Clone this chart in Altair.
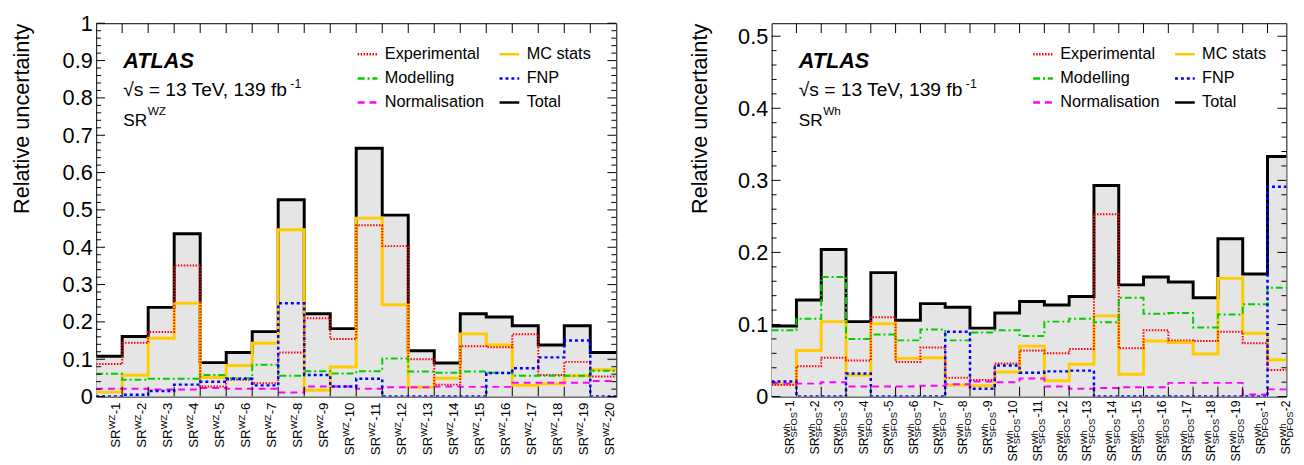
import altair as alt
import pandas as pd

FONT = "Liberation Sans"
H = 379
W_WZ = 528
W_WH = 522.5

# legend is filled column by column: first column = first three entries
SERIES = ["Experimental", "Modelling", "Normalisation", "MC stats", "FNP", "Total"]
COLORS = ["#ff0000", "#00cc00", "#ff00ff", "#ffcc00", "#0000ff", "#000000"]
DASHES = [[1.5, 1.5], [7, 3, 2, 3], [7, 5], [1, 0], [3, 3], [1, 0]]
WIDTHS = {"Experimental": 2, "MC stats": 3, "Modelling": 2, "FNP": 2.5,
          "Normalisation": 2, "Total": 3}
DRAW_ORDER = ["Total", "MC stats", "Experimental", "Modelling", "Normalisation", "FNP"]

# ---------------- SR^WZ (20 bins) ----------------
wz_numbers = list(range(1, 21))
wz_total = [0.108, 0.161, 0.239, 0.436, 0.091, 0.118, 0.174, 0.527, 0.222, 0.182,
            0.665, 0.486, 0.123, 0.090, 0.222, 0.213, 0.190, 0.138, 0.190, 0.118]
wz_exp = [0.087, 0.144, 0.173, 0.351, 0.027, 0.045, 0.036, 0.118, 0.210, 0.154,
          0.459, 0.403, 0.100, 0.032, 0.135, 0.132, 0.167, 0.058, 0.093, 0.054]
wz_mc = [0.012, 0.057, 0.156, 0.250, 0.051, 0.083, 0.143, 0.447, 0.017, 0.079,
         0.478, 0.246, 0.025, 0.049, 0.168, 0.138, 0.030, 0.034, 0.056, 0.072]
wz_mod = [0.061, 0.045, 0.048, 0.048, 0.058, 0.049, 0.085, 0.056, 0.068, 0.062,
          0.068, 0.102, 0.067, 0.064, 0.067, 0.064, 0.056, 0.056, 0.056, 0.069]
wz_fnp = [0.000, 0.005, 0.015, 0.032, 0.040, 0.048, 0.030, 0.250, 0.058, 0.027,
          0.048, 0.000, 0.000, 0.000, 0.000, 0.063, 0.076, 0.105, 0.150, 0.000]
wz_norm = [0.021, 0.021, 0.019, 0.019, 0.023, 0.021, 0.021, 0.011, 0.027, 0.027,
           0.021, 0.025, 0.025, 0.027, 0.026, 0.026, 0.037, 0.037, 0.037, 0.042]

# ---------------- SR^Wh (21 bins) ----------------
wh_numbers = list(range(1, 20)) + [1, 2]
wh_subs = ["SFOS"] * 19 + ["DFOS"] * 2
wh_total = [0.098, 0.134, 0.204, 0.104, 0.172, 0.106, 0.129, 0.124, 0.095, 0.116, 0.132,
            0.127, 0.139, 0.293, 0.155, 0.166, 0.159, 0.137, 0.219, 0.170, 0.333]
wh_exp = [0.016, 0.042, 0.054, 0.050, 0.110, 0.048, 0.068, 0.026, 0.023, 0.046, 0.064,
          0.060, 0.066, 0.253, 0.067, 0.092, 0.078, 0.077, 0.090, 0.074, 0.037]
wh_mc = [0.018, 0.064, 0.104, 0.030, 0.101, 0.053, 0.054, 0.016, 0.015, 0.034, 0.070,
         0.022, 0.045, 0.112, 0.031, 0.077, 0.075, 0.059, 0.164, 0.088, 0.051]
wh_mod = [0.092, 0.108, 0.166, 0.080, 0.086, 0.078, 0.093, 0.078, 0.089, 0.092, 0.084,
          0.104, 0.108, 0.103, 0.137, 0.115, 0.116, 0.096, 0.114, 0.128, 0.151]
wh_fnp = [0.021, 0.000, 0.000, 0.032, 0.000, 0.000, 0.000, 0.090, 0.011, 0.043, 0.033,
          0.035, 0.036, 0.000, 0.000, 0.000, 0.000, 0.000, 0.000, 0.000, 0.291]
wh_norm = [0.018, 0.018, 0.020, 0.014, 0.014, 0.014, 0.015, 0.017, 0.021, 0.020, 0.025,
           0.014, 0.011, 0.012, 0.013, 0.013, 0.019, 0.019, 0.019, 0.003, 0.010]

y_major_wz = [0, 0.1, 0.2, 0.3, 0.4, 0.5, 0.6, 0.7, 0.8, 0.9, 1.0]
y_major_wh = [0, 0.1, 0.2, 0.3, 0.4, 0.5]

# Arial / Liberation Sans advance widths (em)
CW = {"S": 0.667, "R": 0.722, "W": 0.944, "Z": 0.611, "h": 0.556, "F": 0.611,
      "O": 0.778, "D": 0.722, "-": 0.333, "T": 0.611, "e": 0.556, "V": 0.667,
      ",": 0.278, " ": 0.278, "f": 0.278, "b": 0.556, "s": 0.5, "=": 0.584,
      "\u221a": 0.549}


def tw(s, fs):
    return sum(CW.get(c, 0.556) for c in s) * fs


def txt(s, x, y, fs, align="left", **kw):
    return alt.Chart(pd.DataFrame({"t": [s]})).mark_text(
        align=align, baseline="alphabetic", font=FONT, fontSize=fs, color="black", **kw
    ).encode(x=alt.value(x), y=alt.value(y), text="t:N")


def panel(vals, numbers, subs, sup, W, xmax, ymax, ymajor, title_x):
    n = len(numbers)
    xs = alt.Scale(domain=[0, xmax], nice=False, zero=False)
    ys = alt.Scale(domain=[0, ymax], nice=False, zero=False)
    yaxis = alt.Axis(values=ymajor, format="~g", title="Relative uncertainty",
                     titleFont=FONT, titleFontSize=22, titleFontWeight="normal",
                     titleAngle=270, titleAlign="right", titleBaseline="alphabetic",
                     titleX=title_x, titleY=0, titleColor="black",
                     labelFont=FONT, labelFontSize=22, labelPadding=4, labelColor="black",
                     labelFlush=False, labelOverlap=False,
                     ticks=False, tickSize=0, domain=False, grid=False)
    X = alt.X("x:Q", scale=xs, axis=None)
    Y = alt.Y("v:Q", scale=ys, axis=yaxis)

    rows = []
    for s in SERIES:
        v = vals[s]
        for i in range(n + 1):
            rows.append({"series": s, "x": i, "v": v[min(i, n - 1)]})
    hist = pd.DataFrame(rows)

    leg = alt.Legend(title=None, orient="none", legendX=264, legendY=20, columns=2,
                     symbolType="stroke", symbolSize=400, symbolStrokeWidth=2.5,
                     labelFont=FONT, labelFontSize=16.5, labelColor="black",
                     labelOffset=6, columnPadding=10, rowPadding=4.5, padding=0)
    color = alt.Color("series:N", scale=alt.Scale(domain=SERIES, range=COLORS), legend=leg)
    dash = alt.StrokeDash("series:N", scale=alt.Scale(domain=SERIES, range=DASHES), legend=leg)

    layers = [alt.Chart(hist).transform_filter(alt.datum.series == "Total")
              .mark_area(interpolate="step-after", color="#e5e5e5", clip=True)
              .encode(x=X, y=Y)]
    for s in DRAW_ORDER:
        layers.append(alt.Chart(hist).transform_filter(alt.datum.series == s)
                      .mark_line(interpolate="step-after", clip=True,
                                 strokeWidth=WIDTHS[s], strokeCap="butt")
                      .encode(x=X, y=Y, color=color, strokeDash=dash))

    # inward ticks
    minor = [round(0.02 * k, 2) for k in range(1, int(ymax / 0.02) + 1) if k % 5 != 0]
    for vals_t, L in [(ymajor, 9), (minor, 5)]:
        df = pd.DataFrame({"v": vals_t})
        layers.append(alt.Chart(df).mark_rule(color="black", strokeWidth=1)
                      .encode(y=Y, x=alt.value(0), x2=alt.value(L)))
        layers.append(alt.Chart(df).mark_rule(color="black", strokeWidth=1)
                      .encode(y=Y, x=alt.value(W), x2=alt.value(W - L)))
    edges = pd.DataFrame({"x": list(range(1, n))})
    layers.append(alt.Chart(edges).mark_rule(color="black", strokeWidth=1, clip=True)
                  .encode(x=X, y=alt.value(H), y2=alt.value(H - 10)))
    layers.append(alt.Chart(edges).mark_rule(color="black", strokeWidth=1, clip=True)
                  .encode(x=X, y=alt.value(0), y2=alt.value(10)))

    # rotated bin labels
    main_fs = 13.5 if subs is None else 12.5
    small_fs = 9.5
    top = H + 6 if subs is None else H + 4
    ldf = pd.DataFrame({"x": [i + 0.5 for i in range(n)],
                        "num": ["-" + str(k) for k in numbers],
                        "sub": subs if subs is not None else [""] * n,
                        "d": [len(str(k)) for k in numbers]})
    for d in sorted(set(ldf["d"])):
        L1 = tw("-" + "0" * d, main_fs)
        mid = max(tw(sup, small_fs), tw("SFOS", small_fs) if subs is not None else 0)
        y_sr = top + L1 + mid + 0.5
        base = alt.Chart(ldf).transform_filter(alt.datum.d == d)
        common = dict(angle=270, baseline="top", font=FONT, color="black")
        layers.append(base.mark_text(align="right", fontSize=main_fs, **common)
                      .encode(x=X, y=alt.value(top), text="num:N"))
        layers.append(base.mark_text(align="left", fontSize=small_fs, dy=-2, **common)
                      .encode(x=X, y=alt.value(y_sr), text=alt.value(sup)))
        if subs is not None:
            layers.append(base.mark_text(align="left", fontSize=small_fs, dy=5.5, **common)
                          .encode(x=X, y=alt.value(y_sr), text="sub:N"))
        layers.append(base.mark_text(align="right", fontSize=main_fs, **common)
                      .encode(x=X, y=alt.value(y_sr), text=alt.value("SR")))

    # annotations
    ax = 27.5
    energy = "\u221as = 13 TeV, 139 fb"
    efs = 19.5
    layers.append(txt("ATLAS", ax, 45.5, 22, fontStyle="italic", fontWeight="bold"))
    layers.append(txt(energy, ax, 74, efs))
    layers.append(txt("-1", ax + tw(energy, efs) - 1, 66, 12.5))
    layers.append(txt("SR", ax, 104, 17.5))
    layers.append(txt(sup, ax + tw("SR", 17.5) + 0.5, 93, 12))

    return alt.layer(*layers).properties(width=W, height=H)


left = panel({"Experimental": wz_exp, "MC stats": wz_mc, "Modelling": wz_mod,
              "FNP": wz_fnp, "Normalisation": wz_norm, "Total": wz_total},
             wz_numbers, None, "WZ", W_WZ, 20, 1.0, y_major_wz, -69)
right = panel({"Experimental": wh_exp, "MC stats": wh_mc, "Modelling": wh_mod,
               "FNP": wh_fnp, "Normalisation": wh_norm, "Total": wh_total},
              wh_numbers, wh_subs, "Wh", W_WH, 20.76, 0.518, y_major_wh, -66)

chart = (alt.hconcat(left, right, spacing=157.7, bounds="flush")
         .resolve_scale(color="independent", strokeDash="independent",
                        x="independent", y="independent")
         .resolve_legend(color="independent", strokeDash="independent")
         .properties(padding={"left": 1.5, "top": 0, "right": 0, "bottom": 0},
                     background="white")
         .configure_view(stroke="black", strokeWidth=1))

chart.save("out.html", embed_options={"renderer": "svg", "actions": False})
